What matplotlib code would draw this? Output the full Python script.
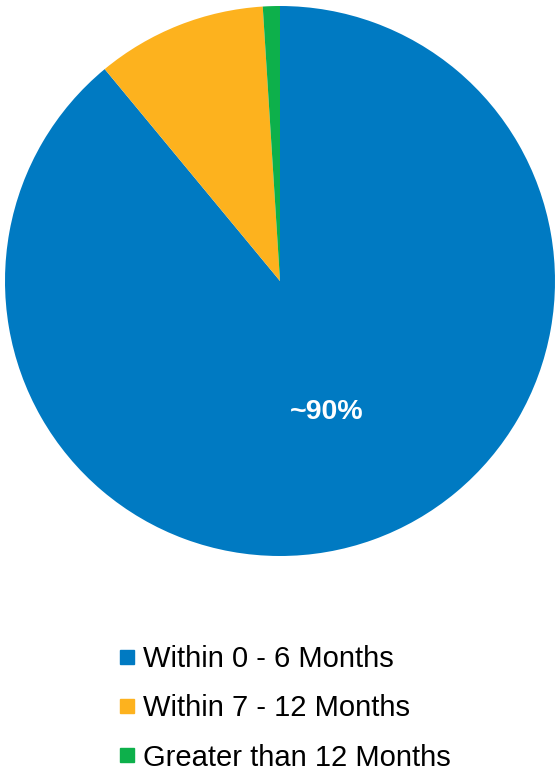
import numpy as np
import matplotlib.pyplot as plt
from matplotlib.lines import Line2D

plt.rcParams['font.family'] = ['Liberation Sans', 'DejaVu Sans']

labels = ["Within 0 - 6 Months", "Within 7 - 12 Months", "Greater than 12 Months"]
shares = [89, 10, 1]
colors = ["#007AC2", "#FDB21E", "#0DB04B"]
blue_label = "~90%"

fig = plt.figure(figsize=(5.57, 7.73), dpi=100)
ax = fig.add_axes([5 / 557, (773 - 556) / 773, 550 / 557, 550 / 773])

wedges, _ = ax.pie(shares, colors=colors, startangle=90, counterclock=False,
                   radius=1.0, wedgeprops=dict(linewidth=0))
ax.set_xlim(-1, 1)
ax.set_ylim(-1, 1)
ax.set_aspect('equal')
ax.axis('off')

# percentage label inside the big slice
w = wedges[0]
mid = np.deg2rad((w.theta1 + w.theta2) / 2)
r = 0.505
ax.text(r * np.cos(mid), r * np.sin(mid), blue_label, color='white',
        fontsize=20.5, fontweight='bold', ha='center', va='center')

handles = [Line2D([], [], marker='s', linestyle='none', markersize=10,
                  markerfacecolor=c, markeredgecolor=c) for c in colors]
fig.legend(handles, labels, loc='upper left', bbox_to_anchor=(120 / 557, 1 - 645 / 773),
           frameon=False, fontsize=21, handlelength=0.5, handletextpad=0.3,
           labelspacing=0.73, borderpad=0, borderaxespad=0)

fig.savefig("out.png", dpi=100)
